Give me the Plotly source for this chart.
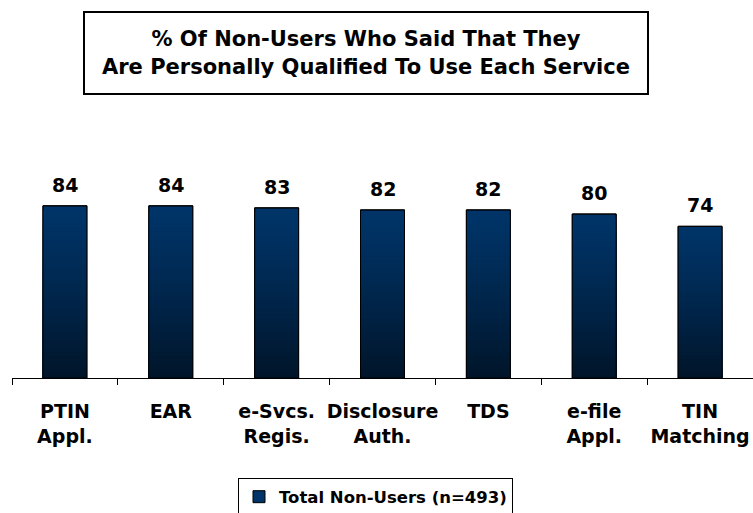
import plotly.graph_objects as go

# Survey results: share of non-users who feel qualified to use each service
categories = ["PTIN<br>Appl.", "EAR", "e-Svcs.<br>Regis.", "Disclosure<br>Auth.",
              "TDS", "e-file<br>Appl.", "TIN<br>Matching"]
values = [84, 84, 83, 82, 82, 80, 74]
series_name = "Total Non-Users (n=493)"
title_text = ("% Of Non-Users Who Said That They<br>"
              "Are Personally Qualified To Use Each Service")

FONT = "DejaVu Sans"
TOP_RGB = (0, 52, 104)
BOTTOM_RGB = (0, 20, 40)
N_BANDS = 40


def shade(t):
    """Colour of the bar gradient at fraction t measured down from the top."""
    t = t ** 1.2
    r, g, b = (round(a + (c - a) * t) for a, c in zip(TOP_RGB, BOTTOM_RGB))
    return f"rgb({r},{g},{b})"


fig = go.Figure()

# main series (full height, also supplies the legend entry)
fig.add_trace(go.Bar(
    x=categories, y=values, name=series_name,
    marker=dict(color=shade(0), line=dict(color="black", width=1)),
    showlegend=True,
))

# vertical gradient: progressively shorter, darker overlays
for k in range(1, N_BANDS):
    f = 1 - k / N_BANDS
    fig.add_trace(go.Bar(
        x=categories, y=[v * f for v in values],
        marker=dict(color=shade(k / N_BANDS), line=dict(width=0)),
        showlegend=False, hoverinfo="skip",
    ))

# outline drawn over the gradient
fig.add_trace(go.Bar(
    x=categories, y=values,
    marker=dict(color="rgba(0,0,0,0)", line=dict(color="black", width=1)),
    showlegend=False, hoverinfo="skip",
))

# value labels above the bars
for c, v in zip(categories, values):
    fig.add_annotation(
        x=c, y=v, xref="x", yref="y", text=str(v), showarrow=False,
        yanchor="bottom", yshift=8,
        font=dict(family=FONT, size=19, color="black", weight="bold"),
    )

# boxed title
fig.add_annotation(
    x=0.4777, y=1.585, xref="paper", yref="paper",
    xanchor="center", yanchor="middle",
    text=title_text, showarrow=False, align="center",
    width=562, height=80, borderpad=0,
    bordercolor="black", borderwidth=2, bgcolor="white",
    font=dict(family=FONT, size=21, color="black", weight="bold"),
)

fig.update_layout(
    width=753, height=513,
    margin=dict(l=12, r=0, t=173, b=135, autoexpand=False),
    paper_bgcolor="white", plot_bgcolor="white",
    barmode="overlay", bargap=0.585,
    font=dict(family=FONT, color="black"),
    showlegend=True,
    legend=dict(
        orientation="h", x=0.305, y=-0.49, xanchor="left", yanchor="top",
        bordercolor="black", borderwidth=1, bgcolor="white",
        font=dict(family=FONT, size=16.5, color="black", weight="bold"),
        itemwidth=30,
    ),
    xaxis=dict(
        showline=True, linecolor="black", linewidth=1,
        ticks="outside", ticklen=6, tickcolor="black", tickwidth=1,
        tickson="boundaries", showgrid=False, tickangle=0, automargin=False,
        tickfont=dict(family=FONT, size=19, color="black", weight="bold"),
        ticklabelstandoff=16,
    ),
    yaxis=dict(range=[0, 100], visible=False, fixedrange=True, automargin=False),
)

fig.write_html("out.html")
